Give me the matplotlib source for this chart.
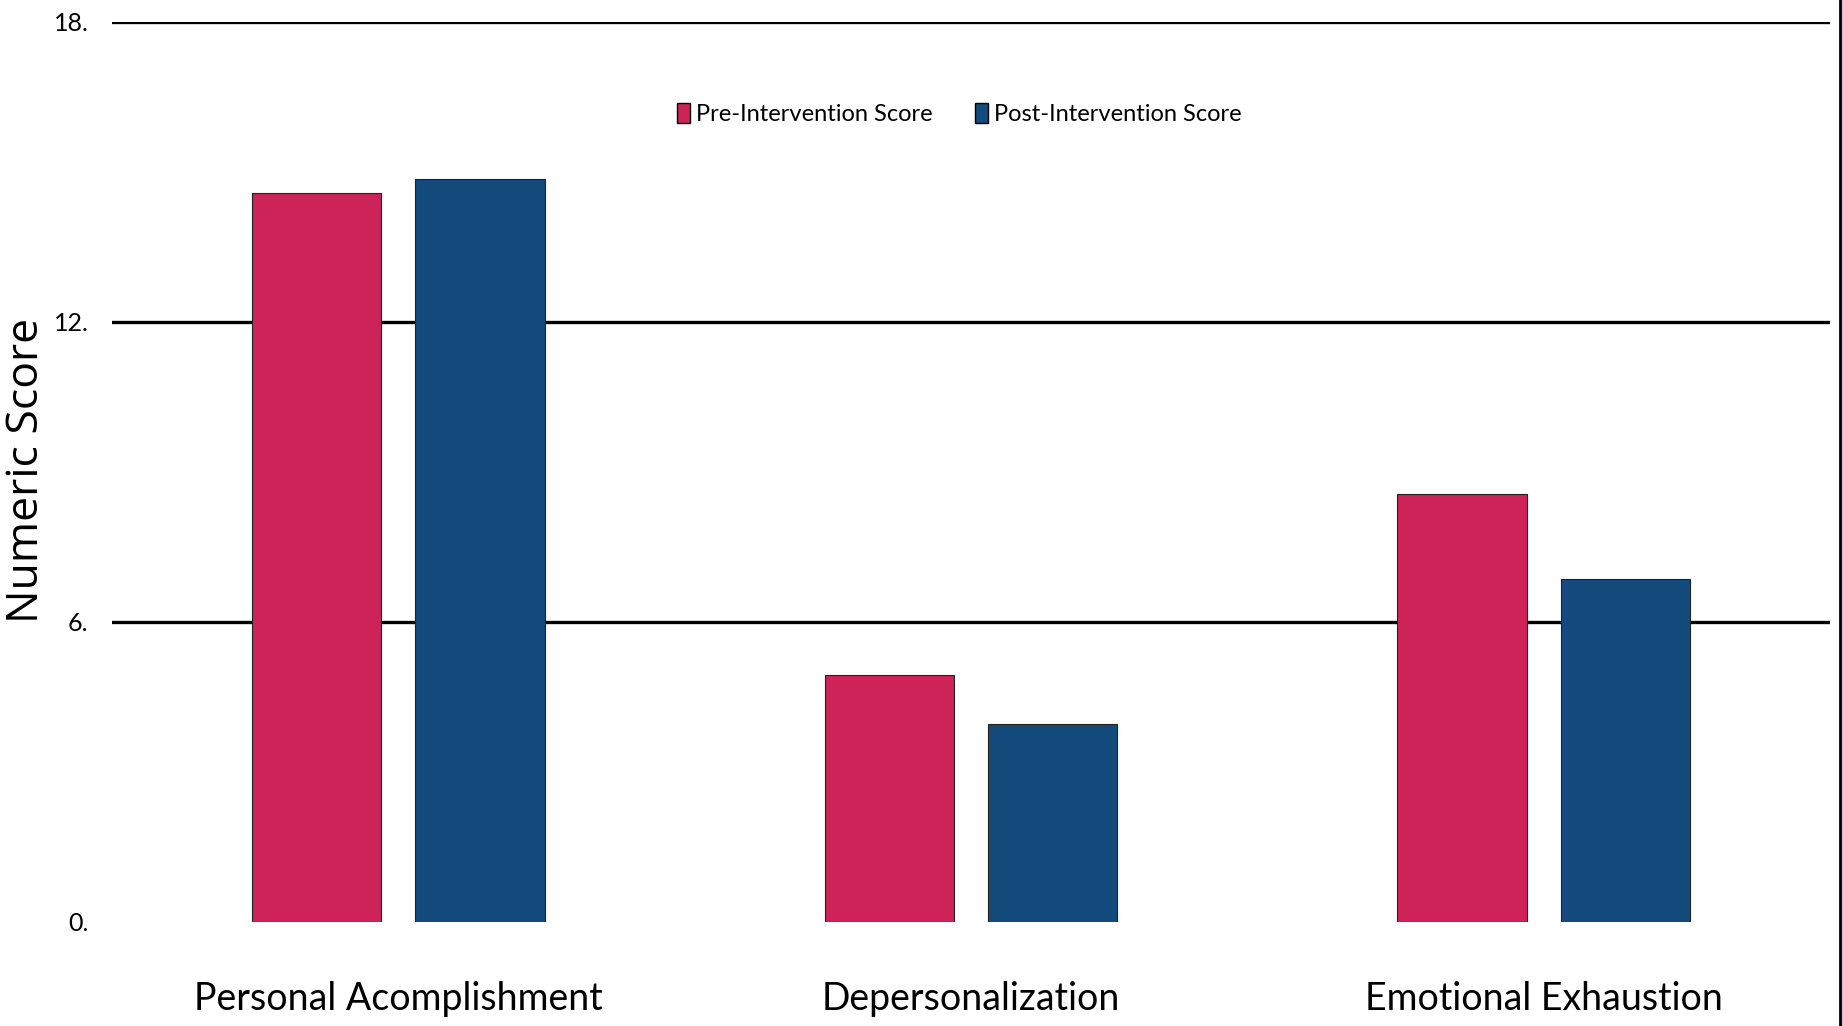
import matplotlib.pyplot as plt
import numpy as np
from matplotlib.lines import Line2D
from matplotlib.patches import Rectangle

# burnout subscale scores before and after the intervention
categories = ["Personal Acomplishment", "Depersonalization", "Emotional Exhaustion"]
pre_scores = [14.58, 4.94, 8.56]
post_scores = [14.86, 3.95, 6.85]
series_names = ["Pre-Intervention Score", "Post-Intervention Score"]
y_ticks = [0, 6, 12, 18]
y_tick_labels = ["0.", "6.", "12.", "18."]

pre_color = "#cd2359"
post_color = "#124b7c"
narrow = ["Lato", "DejaVu Sans"]

fig = plt.figure(figsize=(18.43, 10.26), dpi=100)
ax = fig.add_axes([112 / 1843, 1 - 921.5 / 1026, (1830 - 112) / 1843, 900 / 1026])

x = np.arange(len(categories))
width = 0.2256
offset = 0.1426
ax.bar(x - offset, pre_scores, width, color=pre_color, edgecolor="#222222",
       linewidth=0.8, label=series_names[0], zorder=3)
ax.bar(x + offset, post_scores, width, color=post_color, edgecolor="#222222",
       linewidth=0.8, label=series_names[1], zorder=3)

ax.set_xlim(-0.5, 2.5)
ax.set_ylim(0, 18)

# horizontal rules at the non-zero ticks
for y in y_ticks[1:]:
    ax.axhline(y, color="black", linewidth=2.4, zorder=1)

for side in ["top", "right", "bottom", "left"]:
    ax.spines[side].set_visible(False)

ax.set_yticks(y_ticks)
ax.set_yticklabels(y_tick_labels, family=narrow, fontsize=18)
ax.tick_params(axis="y", length=0, pad=17)

ax.set_xticks(x)
ax.set_xticklabels(categories, family=narrow, fontsize=27)
ax.tick_params(axis="x", length=0, pad=43)

fig.text(27 / 1843, 1 - 470 / 1026, "Numeric Score", rotation=90,
         ha="center", va="center", family=["Open Sans", "DejaVu Sans"], fontsize=32)

handles = [Rectangle((0, 0), 1, 1, facecolor=pre_color, edgecolor="black", linewidth=1),
           Rectangle((0, 0), 1, 1, facecolor=post_color, edgecolor="black", linewidth=1)]
fig.legend(handles, series_names, loc="center", bbox_to_anchor=(959 / 1843, 1 - 114 / 1026),
           ncol=2, frameon=False, prop={"family": narrow, "size": 17},
           handlelength=0.55, handleheight=0.95, handletextpad=0.25, columnspacing=1.8)

# frame edge on the right side of the figure
fig.add_artist(Line2D([1839.5 / 1843, 1839.5 / 1843], [0, 1], color="black",
                      linewidth=2, transform=fig.transFigure))
fig.add_artist(Rectangle((1841 / 1843, 0), 2 / 1843, 1, facecolor="#b7c9ef",
                         edgecolor="none", transform=fig.transFigure))

fig.savefig("out.png", dpi=100)
